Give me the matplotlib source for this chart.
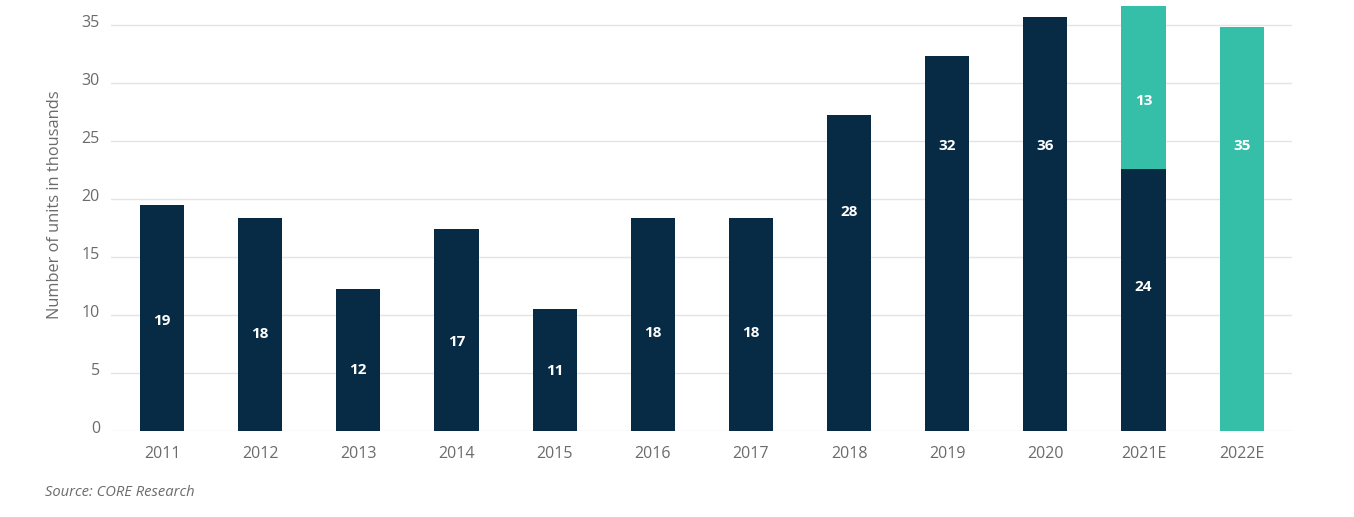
import matplotlib.pyplot as plt
import matplotlib.transforms as mtransforms

years = ["2011", "2012", "2013", "2014", "2015", "2016", "2017", "2018", "2019", "2020", "2021E", "2022E"]
# bar heights as drawn (thousands of units)
actual = [19.5, 18.4, 12.3, 17.4, 10.5, 18.4, 18.4, 27.3, 32.4, 35.7, 22.6, 0]
estimate = [0, 0, 0, 0, 0, 0, 0, 0, 0, 0, 14.1, 34.9]
# printed labels
actual_lbl = ["19", "18", "12", "17", "11", "18", "18", "28", "32", "36", "24", ""]
estimate_lbl = ["", "", "", "", "", "", "", "", "", "", "13", "35"]
# where the labels sit (data units)
actual_lbl_y = [9.5, 8.4, 5.3, 7.7, 5.2, 8.5, 8.5, 18.9, 24.6, 24.6, 12.4, 0]
estimate_lbl_y = [0, 0, 0, 0, 0, 0, 0, 0, 0, 0, 28.5, 24.6]

navy = "#072a45"
teal = "#35bfa9"
grey = "#6b6b6b"

plt.rcParams["font.family"] = ["Open Sans", "DejaVu Sans"]

fig = plt.figure(figsize=(13.54, 5.17), dpi=100)
ax = fig.add_axes([0.082, 0.166, 0.872, 0.834])

x = list(range(len(years)))
ax.bar(x, actual, width=0.45, color=navy, zorder=3)
ax.bar(x, estimate, width=0.45, bottom=actual, color=teal, zorder=3)

for i in x:
    if actual_lbl[i]:
        ax.text(i, actual_lbl_y[i], actual_lbl[i], ha="center", va="center",
                color="white", fontsize=11, fontweight="bold", zorder=4)
    if estimate_lbl[i]:
        ax.text(i, estimate_lbl_y[i], estimate_lbl[i], ha="center", va="center",
                color="white", fontsize=11, fontweight="bold", zorder=4)

ax.set_xlim(-0.52, 11.51)
ax.set_ylim(0, 37.2)
ax.set_yticks(range(0, 36, 5))
ax.set_xticks(x)
ax.set_xticklabels(years)
ax.tick_params(axis="both", length=0, labelsize=11.5, colors=grey)
ax.tick_params(axis="x", pad=11)
ax.tick_params(axis="y", pad=8)
# y labels sit a little above their gridlines
shift = mtransforms.ScaledTranslation(0, 4 / 100, fig.dpi_scale_trans)
for lbl in ax.get_yticklabels():
    lbl.set_transform(lbl.get_transform() + shift)
ax.grid(axis="y", color="#e4e4e4", linewidth=1, zorder=0)
for s in ["top", "right", "left", "bottom"]:
    ax.spines[s].set_visible(False)

fig.text(55 / 1354, 1 - 205 / 517, "Number of units in thousands", rotation=90,
         ha="center", va="center", fontsize=11.8, color=grey)
fig.text(45 / 1354, 1 - 492 / 517, "Source: CORE Research", ha="left", va="center",
         fontsize=10.6, style="italic", color=grey)

fig.savefig("out.png", dpi=100)
